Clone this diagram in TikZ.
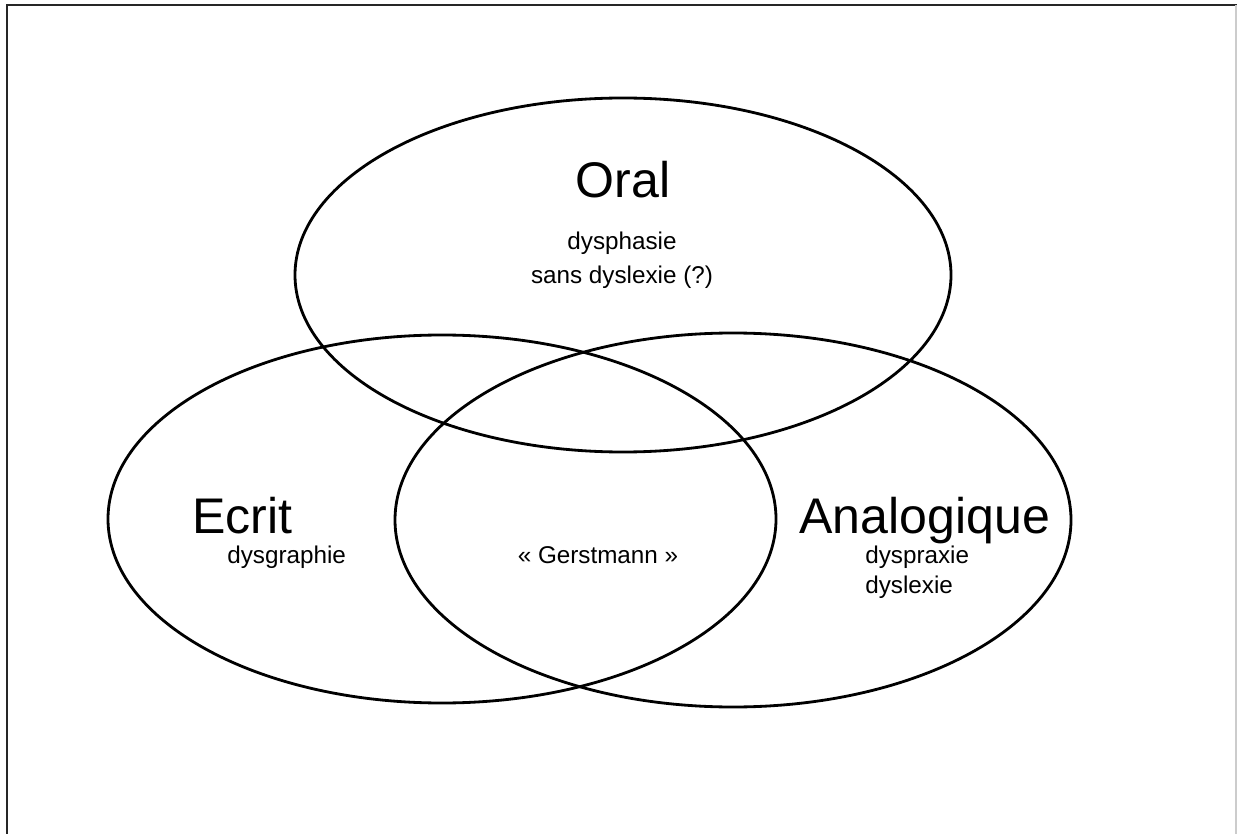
\documentclass[tikz,border=0pt]{standalone}
\usepackage{fontspec}
\setmainfont{Liberation Sans}
\colorlet{ellipse edge}{black}
\colorlet{frame edge}{black!85}
\tikzset{outline/.style={draw=ellipse edge, line width=1.6pt},
    frame/.style={draw=frame edge, line width=1.5pt},
    big/.style={font=\fontsize{28.5}{34}\selectfont, inner sep=0pt},
    small/.style={font=\fontsize{13.8}{17}\selectfont, inner sep=0pt}}
\def\ellipseOral{(623,-275) ellipse (328 and 177)}
\def\ellipseEcrit{(442,-519) ellipse (334 and 184)}
\def\ellipseAnalog{(733,-520) ellipse (338 and 187)}

\begin{document}
\begin{tikzpicture}[x=0.02cm, y=0.02cm]
    \useasboundingbox (0,0) rectangle (1237,-834);
    \draw[frame] (7,-834) |- (1237,-5);
    \draw[black!20, line width=0.6pt] (1236,-5) -- (1236,-834);
    \draw[outline]\ellipseOral;
    \draw[outline]\ellipseEcrit;
    \draw[outline]\ellipseAnalog;
    % titres
    \node[big, anchor=base] (oral) at (623,-198) {Oral};
    \node[big, anchor=base west] (ecrit) at (192,-533) {Ecrit};
    \node[big, anchor=base west] (analog) at (799,-533) {Analogique};
    % troubles
    \node[small, anchor=base] (dysphasie) at (622,-250) {dysphasie};
    \node[small, anchor=base] (sansdyslexie) at (622,-284) {sans dyslexie (?)};
    \node[small, anchor=base west] (dysgraphie) at (227,-563) {dysgraphie};
    \node[small, anchor=base] (gerstmann) at (598,-563) {« Gerstmann »};
    \node[small, anchor=base west] (dyspraxie) at (865,-563) {dyspraxie};
    \node[small, anchor=base west] (dyslexie) at (865,-593) {dyslexie};
\end{tikzpicture}
\end{document}
